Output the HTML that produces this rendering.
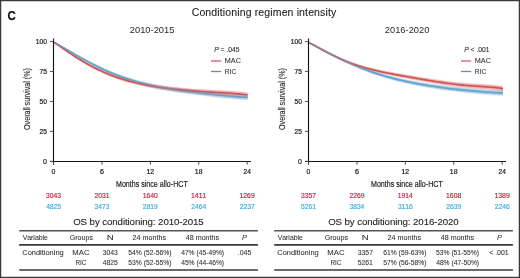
<!DOCTYPE html>
<html><head><meta charset="utf-8"><style>
html,body{margin:0;padding:0;background:#fff;}
body{width:520px;height:278px;overflow:hidden;}
svg{display:block;will-change:transform;font-family:"Liberation Sans", sans-serif;font-kerning:none;}
</style></head><body>
<svg width="520" height="278" viewBox="0 0 520 278">
<rect x="0" y="0" width="520" height="278" fill="#fff"/>
<text x="7.53" y="20.40" font-size="13.4" font-weight="bold" font-style="normal" fill="#111" textLength="8.28" lengthAdjust="spacingAndGlyphs" stroke="#111" stroke-width="0.25" >C</text>
<text x="191.67" y="15.70" font-size="10.5" font-weight="normal" font-style="normal" fill="#1e1e1e" textLength="144.55" lengthAdjust="spacing" stroke="#1e1e1e" stroke-width="0.1" >Conditioning regimen intensity</text>
<text x="129.83" y="32.80" font-size="9.9" font-weight="normal" font-style="normal" fill="#2a2a2a" textLength="44.56" lengthAdjust="spacingAndGlyphs" stroke="#2a2a2a" stroke-width="0" >2010-2015</text>
<polygon points="54.00,41.90 56.02,42.96 58.03,44.03 60.05,45.12 62.07,46.23 64.08,47.35 66.10,48.49 68.12,49.63 70.13,50.77 72.15,51.91 74.17,53.05 76.18,54.19 78.20,55.32 80.22,56.44 82.23,57.55 84.25,58.64 86.27,59.73 88.28,60.80 90.30,61.85 92.32,62.88 94.33,63.89 96.35,64.89 98.37,65.87 100.38,66.82 102.40,67.75 104.42,68.67 106.43,69.56 108.45,70.42 110.47,71.27 112.48,72.09 114.50,72.89 116.52,73.67 118.53,74.42 120.55,75.15 122.57,75.86 124.58,76.55 126.60,77.22 128.62,77.86 130.63,78.49 132.65,79.09 134.67,79.67 136.68,80.24 138.70,80.78 140.72,81.31 142.73,81.82 144.75,82.31 146.77,82.78 148.78,83.24 150.80,83.68 152.82,84.11 154.83,84.52 156.85,84.92 158.87,85.31 160.88,85.68 162.90,86.04 164.92,86.39 166.93,86.73 168.95,87.06 170.97,87.37 172.98,87.68 175.00,87.98 177.02,88.27 179.03,88.56 181.05,88.83 183.07,89.10 185.08,89.36 187.10,89.62 189.12,89.87 191.13,90.12 193.15,90.36 195.17,90.59 197.18,90.82 199.20,91.05 201.22,91.27 203.23,91.49 205.25,91.70 207.27,91.91 209.28,92.12 211.30,92.32 213.32,92.52 215.33,92.71 217.35,92.90 219.37,93.09 221.38,93.27 223.40,93.45 225.42,93.63 227.43,93.80 229.45,93.96 231.47,94.12 233.48,94.28 235.50,94.43 237.52,94.57 239.53,94.71 241.55,94.84 243.57,94.97 245.58,95.09 247.60,95.20 247.60,99.60 245.58,99.47 243.57,99.32 241.55,99.18 239.53,99.02 237.52,98.86 235.50,98.69 233.48,98.52 231.47,98.34 229.45,98.15 227.43,97.97 225.42,97.77 223.40,97.57 221.38,97.37 219.37,97.16 217.35,96.95 215.33,96.74 213.32,96.52 211.30,96.30 209.28,96.07 207.27,95.84 205.25,95.60 203.23,95.37 201.22,95.12 199.20,94.88 197.18,94.63 195.17,94.37 193.15,94.11 191.13,93.84 189.12,93.57 187.10,93.30 185.08,93.01 183.07,92.72 181.05,92.43 179.03,92.13 177.02,91.82 175.00,91.50 172.98,91.17 170.97,90.83 168.95,90.49 166.93,90.13 164.92,89.77 162.90,89.39 160.88,89.00 158.87,88.60 156.85,88.19 154.83,87.76 152.82,87.32 150.80,86.86 148.78,86.39 146.77,85.90 144.75,85.39 142.73,84.87 140.72,84.33 138.70,83.78 136.68,83.20 134.67,82.60 132.65,81.99 130.63,81.35 128.62,80.69 126.60,80.02 124.58,79.32 122.57,78.59 120.55,77.85 118.53,77.08 116.52,76.29 114.50,75.48 112.48,74.65 110.47,73.79 108.45,72.90 106.43,72.00 104.42,71.07 102.40,70.12 100.38,69.15 98.37,68.15 96.35,67.14 94.33,66.10 92.32,65.04 90.30,63.96 88.28,62.87 86.27,61.76 84.25,60.63 82.23,59.48 80.22,58.32 78.20,57.15 76.18,55.97 74.17,54.78 72.15,53.58 70.13,52.38 68.12,51.18 66.10,49.97 64.08,48.77 62.07,47.56 60.05,46.37 58.03,45.18 56.02,44.00 54.00,42.70" fill="#a8d8ea" opacity="0.7"/>
<polygon points="54.00,41.90 56.02,43.12 58.03,44.46 60.05,45.82 62.07,47.17 64.08,48.52 66.10,49.87 68.12,51.20 70.13,52.52 72.15,53.83 74.17,55.11 76.18,56.37 78.20,57.61 80.22,58.83 82.23,60.02 84.25,61.18 86.27,62.32 88.28,63.42 90.30,64.50 92.32,65.55 94.33,66.57 96.35,67.56 98.37,68.52 100.38,69.45 102.40,70.35 104.42,71.21 106.43,72.05 108.45,72.86 110.47,73.64 112.48,74.40 114.50,75.12 116.52,75.82 118.53,76.49 120.55,77.14 122.57,77.76 124.58,78.35 126.60,78.93 128.62,79.48 130.63,80.00 132.65,80.51 134.67,80.99 136.68,81.46 138.70,81.90 140.72,82.33 142.73,82.74 144.75,83.13 146.77,83.51 148.78,83.87 150.80,84.21 152.82,84.55 154.83,84.86 156.85,85.17 158.87,85.46 160.88,85.74 162.90,86.01 164.92,86.27 166.93,86.51 168.95,86.75 170.97,86.98 172.98,87.20 175.00,87.41 177.02,87.61 179.03,87.80 181.05,87.99 183.07,88.17 185.08,88.34 187.10,88.50 189.12,88.66 191.13,88.81 193.15,88.96 195.17,89.10 197.18,89.24 199.20,89.37 201.22,89.49 203.23,89.62 205.25,89.73 207.27,89.85 209.28,89.96 211.30,90.07 213.32,90.18 215.33,90.29 217.35,90.39 219.37,90.50 221.38,90.61 223.40,90.72 225.42,90.84 227.43,90.95 229.45,91.08 231.47,91.21 233.48,91.35 235.50,91.51 237.52,91.67 239.53,91.85 241.55,92.05 243.57,92.26 245.58,92.50 247.60,92.76 247.60,97.36 245.58,97.07 243.57,96.81 241.55,96.58 239.53,96.36 237.52,96.15 235.50,95.96 233.48,95.79 231.47,95.62 229.45,95.46 227.43,95.31 225.42,95.17 223.40,95.03 221.38,94.89 219.37,94.76 217.35,94.62 215.33,94.49 213.32,94.36 211.30,94.23 209.28,94.09 207.27,93.95 205.25,93.81 203.23,93.67 201.22,93.52 199.20,93.37 197.18,93.21 195.17,93.05 193.15,92.88 191.13,92.70 189.12,92.53 187.10,92.34 185.08,92.15 183.07,91.95 181.05,91.74 179.03,91.53 177.02,91.31 175.00,91.07 172.98,90.84 170.97,90.59 168.95,90.33 166.93,90.06 164.92,89.79 162.90,89.50 160.88,89.20 158.87,88.89 156.85,88.57 154.83,88.23 152.82,87.88 150.80,87.52 148.78,87.14 146.77,86.75 144.75,86.34 142.73,85.92 140.72,85.48 138.70,85.02 136.68,84.54 134.67,84.04 132.65,83.52 130.63,82.98 128.62,82.42 126.60,81.84 124.58,81.23 122.57,80.60 120.55,79.94 118.53,79.26 116.52,78.55 114.50,77.81 112.48,77.05 110.47,76.26 108.45,75.44 106.43,74.59 104.42,73.71 102.40,72.80 100.38,71.86 98.37,70.89 96.35,69.89 94.33,68.85 92.32,67.79 90.30,66.69 88.28,65.57 86.27,64.41 84.25,63.23 82.23,62.01 80.22,60.77 78.20,59.50 76.18,58.21 74.17,56.89 72.15,55.54 70.13,54.18 68.12,52.79 66.10,51.39 64.08,49.97 62.07,48.54 60.05,47.09 58.03,45.63 56.02,44.16 54.00,42.70" fill="#f0a4a4" opacity="0.7"/>
<polyline points="54.00,42.30 56.02,43.48 58.03,44.60 60.05,45.74 62.07,46.90 64.08,48.06 66.10,49.23 68.12,50.40 70.13,51.58 72.15,52.75 74.17,53.92 76.18,55.08 78.20,56.24 80.22,57.38 82.23,58.52 84.25,59.64 86.27,60.74 88.28,61.83 90.30,62.91 92.32,63.96 94.33,65.00 96.35,66.01 98.37,67.01 100.38,67.98 102.40,68.94 104.42,69.87 106.43,70.78 108.45,71.66 110.47,72.53 112.48,73.37 114.50,74.19 116.52,74.98 118.53,75.75 120.55,76.50 122.57,77.23 124.58,77.93 126.60,78.62 128.62,79.28 130.63,79.92 132.65,80.54 134.67,81.14 136.68,81.72 138.70,82.28 140.72,82.82 142.73,83.35 144.75,83.85 146.77,84.34 148.78,84.81 150.80,85.27 152.82,85.71 154.83,86.14 156.85,86.55 158.87,86.95 160.88,87.34 162.90,87.72 164.92,88.08 166.93,88.43 168.95,88.77 170.97,89.10 172.98,89.43 175.00,89.74 177.02,90.04 179.03,90.34 181.05,90.63 183.07,90.91 185.08,91.19 187.10,91.46 189.12,91.72 191.13,91.98 193.15,92.23 195.17,92.48 197.18,92.72 199.20,92.96 201.22,93.20 203.23,93.43 205.25,93.65 207.27,93.87 209.28,94.09 211.30,94.31 213.32,94.52 215.33,94.72 217.35,94.93 219.37,95.13 221.38,95.32 223.40,95.51 225.42,95.70 227.43,95.88 229.45,96.06 231.47,96.23 233.48,96.40 235.50,96.56 237.52,96.72 239.53,96.87 241.55,97.01 243.57,97.15 245.58,97.28 247.60,97.40" fill="none" stroke="#62acd2" stroke-width="1.6" stroke-linejoin="round"/>
<polyline points="54.00,42.30 56.02,43.64 58.03,45.05 60.05,46.45 62.07,47.85 64.08,49.25 66.10,50.63 68.12,52.00 70.13,53.35 72.15,54.68 74.17,56.00 76.18,57.29 78.20,58.56 80.22,59.80 82.23,61.02 84.25,62.20 86.27,63.37 88.28,64.50 90.30,65.60 92.32,66.67 94.33,67.71 96.35,68.72 98.37,69.70 100.38,70.65 102.40,71.57 104.42,72.46 106.43,73.32 108.45,74.15 110.47,74.95 112.48,75.72 114.50,76.47 116.52,77.19 118.53,77.88 120.55,78.54 122.57,79.18 124.58,79.79 126.60,80.38 128.62,80.95 130.63,81.49 132.65,82.02 134.67,82.52 136.68,83.00 138.70,83.46 140.72,83.90 142.73,84.33 144.75,84.74 146.77,85.13 148.78,85.51 150.80,85.87 152.82,86.22 154.83,86.55 156.85,86.87 158.87,87.18 160.88,87.47 162.90,87.75 164.92,88.03 166.93,88.29 168.95,88.54 170.97,88.78 172.98,89.02 175.00,89.24 177.02,89.46 179.03,89.67 181.05,89.87 183.07,90.06 185.08,90.24 187.10,90.42 189.12,90.59 191.13,90.76 193.15,90.92 195.17,91.07 197.18,91.22 199.20,91.37 201.22,91.51 203.23,91.64 205.25,91.77 207.27,91.90 209.28,92.03 211.30,92.15 213.32,92.27 215.33,92.39 217.35,92.51 219.37,92.63 221.38,92.75 223.40,92.87 225.42,93.00 227.43,93.13 229.45,93.27 231.47,93.42 233.48,93.57 235.50,93.73 237.52,93.91 239.53,94.10 241.55,94.31 243.57,94.54 245.58,94.79 247.60,95.06" fill="none" stroke="#c84646" stroke-width="1.6" stroke-linejoin="round"/>
<polyline points="54.00,42.30 56.02,43.48 58.03,44.60 60.05,45.74 62.07,46.90 64.08,48.06 66.10,49.23 68.12,50.40 70.13,51.58 72.15,52.75 74.17,53.92 76.18,55.08 78.20,56.24 80.22,57.38 82.23,58.52 84.25,59.64 86.27,60.74 88.28,61.83 90.30,62.91 92.32,63.96 94.33,65.00 96.35,66.01 98.37,67.01 100.38,67.98 102.40,68.94 104.42,69.87 106.43,70.78 108.45,71.66 110.47,72.53 112.48,73.37 114.50,74.19 116.52,74.98 118.53,75.75 120.55,76.50 122.57,77.23 124.58,77.93 126.60,78.62 128.62,79.28 130.63,79.92 132.65,80.54 134.67,81.14 136.68,81.72 138.70,82.28 140.72,82.82 142.73,83.35 144.75,83.85 146.77,84.34 148.78,84.81 150.80,85.27 152.82,85.71 154.83,86.14 156.85,86.55 158.87,86.95 160.88,87.34 162.90,87.72 164.92,88.08 166.93,88.43 168.95,88.77 170.97,89.10 172.98,89.43 175.00,89.74 177.02,90.04 179.03,90.34 181.05,90.63 183.07,90.91 185.08,91.19 187.10,91.46 189.12,91.72 191.13,91.98 193.15,92.23 195.17,92.48 197.18,92.72 199.20,92.96 201.22,93.20 203.23,93.43 205.25,93.65 207.27,93.87 209.28,94.09 211.30,94.31 213.32,94.52 215.33,94.72 217.35,94.93 219.37,95.13 221.38,95.32 223.40,95.51 225.42,95.70 227.43,95.88 229.45,96.06 231.47,96.23 233.48,96.40 235.50,96.56 237.52,96.72 239.53,96.87 241.55,97.01 243.57,97.15 245.58,97.28 247.60,97.40" fill="none" stroke="#62acd2" stroke-width="1.5" stroke-linejoin="round" opacity="0.45"/>
<polygon points="54.00,41.40 56.02,42.45 58.03,43.51 60.05,44.59 62.07,45.70 64.08,46.82 66.10,47.95 68.12,49.09 70.13,50.23 72.15,51.37 74.17,52.50 76.18,53.64 78.20,54.76 80.22,55.88 82.23,56.99 84.25,58.08 86.27,59.16 88.28,60.22 90.30,61.27 92.32,62.30 94.33,63.32 96.35,64.31 98.37,65.28 100.38,66.24 102.40,67.17 104.42,68.08 106.43,68.96 108.45,69.83 110.47,70.67 112.48,71.49 114.50,72.29 116.52,73.07 118.53,73.82 120.55,74.55 122.57,75.26 124.58,75.94 126.60,76.61 128.62,77.25 130.63,77.87 132.65,78.47 134.67,79.06 136.68,79.62 138.70,80.16 140.72,80.69 142.73,81.19 144.75,81.68 146.77,82.16 148.78,82.61 150.80,83.05 152.82,83.48 154.83,83.89 156.85,84.29 158.87,84.67 160.88,85.04 162.90,85.40 164.92,85.75 166.93,86.08 168.95,86.41 170.97,86.73 172.98,87.03 175.00,87.33 177.02,87.62 179.03,87.90 181.05,88.18 183.07,88.45 185.08,88.71 187.10,88.96 189.12,89.21 191.13,89.45 193.15,89.69 195.17,89.93 197.18,90.16 199.20,90.38 201.22,90.60 203.23,90.82 205.25,91.03 207.27,91.24 209.28,91.44 211.30,91.64 213.32,91.84 215.33,92.03 217.35,92.22 219.37,92.41 221.38,92.59 223.40,92.77 225.42,92.94 227.43,93.11 229.45,93.27 231.47,93.43 233.48,93.59 235.50,93.74 237.52,93.88 239.53,94.02 241.55,94.15 243.57,94.27 245.58,94.39 247.60,94.50 247.60,100.30 245.58,100.16 243.57,100.02 241.55,99.87 239.53,99.72 237.52,99.55 235.50,99.38 233.48,99.21 231.47,99.03 229.45,98.84 227.43,98.65 225.42,98.46 223.40,98.26 221.38,98.05 219.37,97.85 217.35,97.63 215.33,97.42 213.32,97.20 211.30,96.97 209.28,96.75 207.27,96.51 205.25,96.28 203.23,96.04 201.22,95.79 199.20,95.55 197.18,95.29 195.17,95.04 193.15,94.77 191.13,94.51 189.12,94.23 187.10,93.96 185.08,93.67 183.07,93.38 181.05,93.08 179.03,92.78 177.02,92.47 175.00,92.15 172.98,91.82 170.97,91.48 168.95,91.14 166.93,90.78 164.92,90.41 162.90,90.03 160.88,89.64 158.87,89.24 156.85,88.82 154.83,88.39 152.82,87.95 150.80,87.49 148.78,87.02 146.77,86.53 144.75,86.02 142.73,85.50 140.72,84.96 138.70,84.40 136.68,83.82 134.67,83.22 132.65,82.60 130.63,81.97 128.62,81.31 126.60,80.63 124.58,79.93 122.57,79.20 120.55,78.46 118.53,77.69 116.52,76.90 114.50,76.08 112.48,75.24 110.47,74.38 108.45,73.50 106.43,72.59 104.42,71.66 102.40,70.71 100.38,69.73 98.37,68.74 96.35,67.72 94.33,66.68 92.32,65.62 90.30,64.54 88.28,63.44 86.27,62.32 84.25,61.19 82.23,60.05 80.22,58.88 78.20,57.71 76.18,56.53 74.17,55.33 72.15,54.13 70.13,52.93 68.12,51.72 66.10,50.51 64.08,49.30 62.07,48.09 60.05,46.89 58.03,45.70 56.02,44.51 54.00,43.20" fill="#6a8fc0" opacity="0.22"/>
<polygon points="54.00,41.40 56.02,42.61 58.03,43.95 60.05,45.30 62.07,46.66 64.08,48.01 66.10,49.35 68.12,50.68 70.13,52.00 72.15,53.30 74.17,54.58 76.18,55.84 78.20,57.08 80.22,58.30 82.23,59.49 84.25,60.65 86.27,61.78 88.28,62.89 90.30,63.97 92.32,65.01 94.33,66.03 96.35,67.02 98.37,67.98 100.38,68.90 102.40,69.80 104.42,70.67 106.43,71.51 108.45,72.32 110.47,73.10 112.48,73.85 114.50,74.57 116.52,75.27 118.53,75.94 120.55,76.59 122.57,77.20 124.58,77.80 126.60,78.37 128.62,78.92 130.63,79.45 132.65,79.95 134.67,80.43 136.68,80.90 138.70,81.34 140.72,81.77 142.73,82.18 144.75,82.57 146.77,82.94 148.78,83.30 150.80,83.65 152.82,83.98 154.83,84.30 156.85,84.60 158.87,84.89 160.88,85.17 162.90,85.44 164.92,85.70 166.93,85.94 168.95,86.18 170.97,86.41 172.98,86.62 175.00,86.83 177.02,87.03 179.03,87.23 181.05,87.41 183.07,87.59 185.08,87.76 187.10,87.92 189.12,88.08 191.13,88.23 193.15,88.38 195.17,88.52 197.18,88.65 199.20,88.78 201.22,88.91 203.23,89.03 205.25,89.15 207.27,89.26 209.28,89.37 211.30,89.48 213.32,89.59 215.33,89.70 217.35,89.80 219.37,89.91 221.38,90.02 223.40,90.13 225.42,90.24 227.43,90.36 229.45,90.49 231.47,90.62 233.48,90.76 235.50,90.91 237.52,91.08 239.53,91.25 241.55,91.45 243.57,91.66 245.58,91.90 247.60,92.16 247.60,97.96 245.58,97.67 243.57,97.41 241.55,97.17 239.53,96.95 237.52,96.75 235.50,96.56 233.48,96.38 231.47,96.21 229.45,96.06 227.43,95.91 225.42,95.76 223.40,95.62 221.38,95.48 219.37,95.35 217.35,95.22 215.33,95.08 213.32,94.95 211.30,94.81 209.28,94.68 207.27,94.54 205.25,94.40 203.23,94.25 201.22,94.10 199.20,93.95 197.18,93.79 195.17,93.63 193.15,93.46 191.13,93.29 189.12,93.11 187.10,92.92 185.08,92.73 183.07,92.53 181.05,92.32 179.03,92.10 177.02,91.88 175.00,91.65 172.98,91.41 170.97,91.16 168.95,90.90 166.93,90.64 164.92,90.36 162.90,90.07 160.88,89.77 158.87,89.46 156.85,89.14 154.83,88.80 152.82,88.45 150.80,88.09 148.78,87.71 146.77,87.32 144.75,86.91 142.73,86.48 140.72,86.04 138.70,85.58 136.68,85.10 134.67,84.60 132.65,84.08 130.63,83.54 128.62,82.98 126.60,82.39 124.58,81.78 122.57,81.15 120.55,80.49 118.53,79.81 116.52,79.10 114.50,78.36 112.48,77.60 110.47,76.81 108.45,75.99 106.43,75.13 104.42,74.25 102.40,73.34 100.38,72.40 98.37,71.43 96.35,70.43 94.33,69.39 92.32,68.33 90.30,67.23 88.28,66.10 86.27,64.95 84.25,63.76 82.23,62.55 80.22,61.30 78.20,60.03 76.18,58.73 74.17,57.41 72.15,56.07 70.13,54.70 68.12,53.31 66.10,51.91 64.08,50.49 62.07,49.05 60.05,47.60 58.03,46.14 56.02,44.67 54.00,43.20" fill="#e08080" opacity="0.22"/>
<line x1="53.5" y1="38.5" x2="53.5" y2="164.6" stroke="#151515" stroke-width="1.15" />
<line x1="50" y1="161.5" x2="251" y2="161.5" stroke="#151515" stroke-width="1.15" />
<line x1="50" y1="41.599999999999994" x2="53.2" y2="41.599999999999994" stroke="#555" stroke-width="1.0" />
<text x="35.69" y="44.10" font-size="7.2" font-weight="normal" font-style="normal" fill="#222" textLength="11.17" lengthAdjust="spacingAndGlyphs" stroke="#222" stroke-width="0.22" >100</text>
<line x1="50" y1="71.52499999999999" x2="53.2" y2="71.52499999999999" stroke="#555" stroke-width="1.0" />
<text x="39.46" y="74.02" font-size="7.2" font-weight="normal" font-style="normal" fill="#222" textLength="7.42" lengthAdjust="spacingAndGlyphs" stroke="#222" stroke-width="0.22" >75</text>
<line x1="50" y1="101.45" x2="53.2" y2="101.45" stroke="#555" stroke-width="1.0" />
<text x="39.54" y="103.95" font-size="7.2" font-weight="normal" font-style="normal" fill="#222" textLength="7.32" lengthAdjust="spacingAndGlyphs" stroke="#222" stroke-width="0.22" >50</text>
<line x1="50" y1="131.375" x2="53.2" y2="131.375" stroke="#555" stroke-width="1.0" />
<text x="39.46" y="133.88" font-size="7.2" font-weight="normal" font-style="normal" fill="#222" textLength="7.42" lengthAdjust="spacingAndGlyphs" stroke="#222" stroke-width="0.22" >25</text>
<line x1="50" y1="161.3" x2="53.2" y2="161.3" stroke="#555" stroke-width="1.0" />
<text x="43.03" y="163.80" font-size="7.2" font-weight="normal" font-style="normal" fill="#222" textLength="3.84" lengthAdjust="spacingAndGlyphs" stroke="#222" stroke-width="0.22" >0</text>
<line x1="53.5" y1="161.3" x2="53.5" y2="164.6" stroke="#444" stroke-width="1.0" />
<text x="51.58" y="173.50" font-size="7.2" font-weight="normal" font-style="normal" fill="#222" textLength="3.84" lengthAdjust="spacingAndGlyphs" stroke="#222" stroke-width="0.22" >0</text>
<line x1="101.925" y1="161.3" x2="101.925" y2="164.6" stroke="#444" stroke-width="1.0" />
<text x="99.91" y="173.50" font-size="7.2" font-weight="normal" font-style="normal" fill="#222" textLength="3.98" lengthAdjust="spacingAndGlyphs" stroke="#222" stroke-width="0.22" >6</text>
<line x1="150.35" y1="161.3" x2="150.35" y2="164.6" stroke="#444" stroke-width="1.0" />
<text x="146.42" y="173.50" font-size="7.2" font-weight="normal" font-style="normal" fill="#222" textLength="7.67" lengthAdjust="spacingAndGlyphs" stroke="#222" stroke-width="0.22" >12</text>
<line x1="198.77499999999998" y1="161.3" x2="198.77499999999998" y2="164.6" stroke="#444" stroke-width="1.0" />
<text x="194.85" y="173.50" font-size="7.2" font-weight="normal" font-style="normal" fill="#222" textLength="7.62" lengthAdjust="spacingAndGlyphs" stroke="#222" stroke-width="0.22" >18</text>
<line x1="247.2" y1="161.3" x2="247.2" y2="164.6" stroke="#444" stroke-width="1.0" />
<text x="243.47" y="173.50" font-size="7.2" font-weight="normal" font-style="normal" fill="#222" textLength="7.32" lengthAdjust="spacingAndGlyphs" stroke="#222" stroke-width="0.22" >24</text>
<text transform="translate(29.90,129.94) rotate(-90)" x="0" y="0" font-size="9.8" fill="#2a2a2a" stroke="#2a2a2a" stroke-width="0.15" textLength="61.78" lengthAdjust="spacingAndGlyphs">Overall survival (%)</text>
<text x="116.02" y="187.00" font-size="9.2" font-weight="normal" font-style="normal" fill="#222" textLength="71.74" lengthAdjust="spacingAndGlyphs" stroke="#222" stroke-width="0.2" >Months since allo-HCT</text>
<text x="214.30" y="52.3" font-size="6.7" fill="#2a2a2a" stroke="#2a2a2a" stroke-width="0.1"><tspan font-style="italic">P</tspan> = .045</text>
<line x1="211" y1="61" x2="221.2" y2="61" stroke="#d9587a" stroke-width="1.3" />
<line x1="211" y1="71.5" x2="221.2" y2="71.5" stroke="#6f8aa5" stroke-width="1.3" />
<text x="224.80" y="63.00" font-size="6.7" font-weight="normal" font-style="normal" fill="#333" textLength="16.17" lengthAdjust="spacingAndGlyphs" stroke="#333" stroke-width="0.08" >MAC</text>
<text x="224.85" y="73.60" font-size="6.7" font-weight="normal" font-style="normal" fill="#333" textLength="11.50" lengthAdjust="spacingAndGlyphs" stroke="#333" stroke-width="0.08" >RIC</text>
<text x="384.83" y="32.80" font-size="9.9" font-weight="normal" font-style="normal" fill="#2a2a2a" textLength="44.53" lengthAdjust="spacingAndGlyphs" stroke="#2a2a2a" stroke-width="0" >2016-2020</text>
<polygon points="309.00,42.30 311.00,43.21 313.00,44.19 315.00,45.19 317.00,46.19 319.00,47.21 321.00,48.22 323.00,49.24 325.00,50.26 327.00,51.27 329.00,52.28 331.00,53.28 333.00,54.28 335.00,55.26 337.00,56.23 339.00,57.19 341.00,58.14 343.00,59.07 345.00,59.99 347.00,60.89 349.00,61.78 351.00,62.65 353.00,63.50 355.00,64.34 357.00,65.16 359.00,65.96 361.00,66.74 363.00,67.50 365.00,68.25 367.00,68.98 369.00,69.69 371.00,70.38 373.00,71.06 375.00,71.71 377.00,72.35 379.00,72.97 381.00,73.58 383.00,74.17 385.00,74.74 387.00,75.29 389.00,75.83 391.00,76.36 393.00,76.87 395.00,77.36 397.00,77.84 399.00,78.31 401.00,78.76 403.00,79.20 405.00,79.63 407.00,80.05 409.00,80.45 411.00,80.84 413.00,81.23 415.00,81.60 417.00,81.96 419.00,82.31 421.00,82.65 423.00,82.98 425.00,83.30 427.00,83.62 429.00,83.92 431.00,84.22 433.00,84.51 435.00,84.79 437.00,85.07 439.00,85.34 441.00,85.60 443.00,85.85 445.00,86.10 447.00,86.34 449.00,86.58 451.00,86.81 453.00,87.03 455.00,87.25 457.00,87.46 459.00,87.67 461.00,87.87 463.00,88.06 465.00,88.25 467.00,88.43 469.00,88.61 471.00,88.79 473.00,88.95 475.00,89.11 477.00,89.27 479.00,89.42 481.00,89.57 483.00,89.71 485.00,89.84 487.00,89.97 489.00,90.10 491.00,90.21 493.00,90.33 495.00,90.44 497.00,90.54 499.00,90.64 501.00,90.73 503.00,90.82 503.00,95.22 501.00,95.11 499.00,94.99 497.00,94.87 495.00,94.75 493.00,94.62 491.00,94.48 489.00,94.34 487.00,94.19 485.00,94.04 483.00,93.88 481.00,93.72 479.00,93.55 477.00,93.37 475.00,93.19 473.00,93.01 471.00,92.82 469.00,92.62 467.00,92.42 465.00,92.21 463.00,92.00 461.00,91.78 459.00,91.55 457.00,91.32 455.00,91.08 453.00,90.84 451.00,90.59 449.00,90.34 447.00,90.08 445.00,89.81 443.00,89.53 441.00,89.25 439.00,88.97 437.00,88.67 435.00,88.37 433.00,88.06 431.00,87.75 429.00,87.42 427.00,87.09 425.00,86.75 423.00,86.40 421.00,86.04 419.00,85.67 417.00,85.29 415.00,84.90 413.00,84.50 411.00,84.09 409.00,83.67 407.00,83.24 405.00,82.79 403.00,82.33 401.00,81.86 399.00,81.38 397.00,80.88 395.00,80.37 393.00,79.85 391.00,79.30 389.00,78.75 387.00,78.18 385.00,77.59 383.00,76.98 381.00,76.36 379.00,75.73 377.00,75.07 375.00,74.40 373.00,73.71 371.00,73.00 369.00,72.27 367.00,71.52 365.00,70.76 363.00,69.98 361.00,69.17 359.00,68.35 357.00,67.51 355.00,66.66 353.00,65.78 351.00,64.89 349.00,63.97 347.00,63.05 345.00,62.10 343.00,61.14 341.00,60.16 339.00,59.17 337.00,58.16 335.00,57.14 333.00,56.10 331.00,55.06 329.00,54.00 327.00,52.94 325.00,51.87 323.00,50.79 321.00,49.70 319.00,48.61 317.00,47.52 315.00,46.43 313.00,45.34 311.00,44.25 309.00,43.10" fill="#a8d8ea" opacity="0.7"/>
<polygon points="309.00,42.30 311.00,43.10 313.00,44.12 315.00,45.17 317.00,46.22 319.00,47.29 321.00,48.35 323.00,49.40 325.00,50.44 327.00,51.47 329.00,52.48 331.00,53.48 333.00,54.45 335.00,55.40 337.00,56.32 339.00,57.22 341.00,58.09 343.00,58.94 345.00,59.75 347.00,60.54 349.00,61.30 351.00,62.04 353.00,62.74 355.00,63.42 357.00,64.07 359.00,64.70 361.00,65.30 363.00,65.88 365.00,66.44 367.00,66.98 369.00,67.49 371.00,67.99 373.00,68.47 375.00,68.94 377.00,69.38 379.00,69.82 381.00,70.24 383.00,70.65 385.00,71.05 387.00,71.44 389.00,71.82 391.00,72.19 393.00,72.56 395.00,72.92 397.00,73.28 399.00,73.63 401.00,73.98 403.00,74.33 405.00,74.67 407.00,75.01 409.00,75.35 411.00,75.69 413.00,76.02 415.00,76.36 417.00,76.69 419.00,77.02 421.00,77.35 423.00,77.68 425.00,78.00 427.00,78.32 429.00,78.64 431.00,78.96 433.00,79.27 435.00,79.57 437.00,79.88 439.00,80.17 441.00,80.46 443.00,80.74 445.00,81.01 447.00,81.28 449.00,81.53 451.00,81.78 453.00,82.02 455.00,82.24 457.00,82.46 459.00,82.67 461.00,82.86 463.00,83.04 465.00,83.22 467.00,83.38 469.00,83.53 471.00,83.68 473.00,83.81 475.00,83.94 477.00,84.07 479.00,84.19 481.00,84.30 483.00,84.42 485.00,84.54 487.00,84.67 489.00,84.81 491.00,84.96 493.00,85.13 495.00,85.32 497.00,85.54 499.00,85.79 501.00,86.08 503.00,86.42 503.00,91.02 501.00,90.65 499.00,90.34 497.00,90.07 495.00,89.82 493.00,89.61 491.00,89.42 489.00,89.24 487.00,89.08 485.00,88.93 483.00,88.78 481.00,88.64 479.00,88.50 477.00,88.35 475.00,88.20 473.00,88.05 471.00,87.89 469.00,87.72 467.00,87.54 465.00,87.35 463.00,87.15 461.00,86.94 459.00,86.72 457.00,86.49 455.00,86.25 453.00,86.00 451.00,85.73 449.00,85.46 447.00,85.18 445.00,84.88 443.00,84.58 441.00,84.27 439.00,83.96 437.00,83.64 435.00,83.31 433.00,82.97 431.00,82.63 429.00,82.29 427.00,81.94 425.00,81.59 423.00,81.24 421.00,80.88 419.00,80.52 417.00,80.16 415.00,79.80 413.00,79.44 411.00,79.07 409.00,78.70 407.00,78.33 405.00,77.96 403.00,77.59 401.00,77.21 399.00,76.83 397.00,76.45 395.00,76.06 393.00,75.66 391.00,75.26 389.00,74.85 387.00,74.44 385.00,74.02 383.00,73.58 381.00,73.14 379.00,72.68 377.00,72.21 375.00,71.73 373.00,71.23 371.00,70.71 369.00,70.17 367.00,69.62 365.00,69.04 363.00,68.45 361.00,67.83 359.00,67.18 357.00,66.52 355.00,65.82 353.00,65.10 351.00,64.35 349.00,63.58 347.00,62.77 345.00,61.94 343.00,61.07 341.00,60.18 339.00,59.26 337.00,58.31 335.00,57.34 333.00,56.33 331.00,55.31 329.00,54.26 327.00,53.18 325.00,52.09 323.00,50.98 321.00,49.86 319.00,48.73 317.00,47.59 315.00,46.44 313.00,45.29 311.00,44.15 309.00,43.10" fill="#f0a4a4" opacity="0.7"/>
<polyline points="309.00,42.70 311.00,43.73 313.00,44.77 315.00,45.81 317.00,46.86 319.00,47.91 321.00,48.96 323.00,50.01 325.00,51.06 327.00,52.11 329.00,53.14 331.00,54.17 333.00,55.19 335.00,56.20 337.00,57.19 339.00,58.18 341.00,59.15 343.00,60.10 345.00,61.04 347.00,61.97 349.00,62.88 351.00,63.77 353.00,64.64 355.00,65.50 357.00,66.34 359.00,67.16 361.00,67.96 363.00,68.74 365.00,69.50 367.00,70.25 369.00,70.98 371.00,71.69 373.00,72.38 375.00,73.05 377.00,73.71 379.00,74.35 381.00,74.97 383.00,75.58 385.00,76.16 387.00,76.74 389.00,77.29 391.00,77.83 393.00,78.36 395.00,78.87 397.00,79.36 399.00,79.85 401.00,80.31 403.00,80.77 405.00,81.21 407.00,81.64 409.00,82.06 411.00,82.47 413.00,82.86 415.00,83.25 417.00,83.62 419.00,83.99 421.00,84.34 423.00,84.69 425.00,85.02 427.00,85.35 429.00,85.67 431.00,85.98 433.00,86.29 435.00,86.58 437.00,86.87 439.00,87.15 441.00,87.43 443.00,87.69 445.00,87.95 447.00,88.21 449.00,88.46 451.00,88.70 453.00,88.94 455.00,89.17 457.00,89.39 459.00,89.61 461.00,89.82 463.00,90.03 465.00,90.23 467.00,90.43 469.00,90.62 471.00,90.80 473.00,90.98 475.00,91.15 477.00,91.32 479.00,91.49 481.00,91.64 483.00,91.79 485.00,91.94 487.00,92.08 489.00,92.22 491.00,92.35 493.00,92.47 495.00,92.59 497.00,92.71 499.00,92.81 501.00,92.92 503.00,93.02" fill="none" stroke="#62acd2" stroke-width="1.6" stroke-linejoin="round"/>
<polyline points="309.00,42.70 311.00,43.62 313.00,44.71 315.00,45.80 317.00,46.91 319.00,48.01 321.00,49.10 323.00,50.19 325.00,51.27 327.00,52.33 329.00,53.37 331.00,54.39 333.00,55.39 335.00,56.37 337.00,57.32 339.00,58.24 341.00,59.14 343.00,60.01 345.00,60.84 347.00,61.66 349.00,62.44 351.00,63.19 353.00,63.92 355.00,64.62 357.00,65.29 359.00,65.94 361.00,66.57 363.00,67.17 365.00,67.74 367.00,68.30 369.00,68.83 371.00,69.35 373.00,69.85 375.00,70.33 377.00,70.80 379.00,71.25 381.00,71.69 383.00,72.12 385.00,72.53 387.00,72.94 389.00,73.34 391.00,73.73 393.00,74.11 395.00,74.49 397.00,74.86 399.00,75.23 401.00,75.60 403.00,75.96 405.00,76.32 407.00,76.67 409.00,77.03 411.00,77.38 413.00,77.73 415.00,78.08 417.00,78.43 419.00,78.77 421.00,79.12 423.00,79.46 425.00,79.80 427.00,80.13 429.00,80.47 431.00,80.80 433.00,81.12 435.00,81.44 437.00,81.76 439.00,82.06 441.00,82.37 443.00,82.66 445.00,82.95 447.00,83.23 449.00,83.50 451.00,83.76 453.00,84.01 455.00,84.25 457.00,84.48 459.00,84.69 461.00,84.90 463.00,85.10 465.00,85.28 467.00,85.46 469.00,85.63 471.00,85.78 473.00,85.93 475.00,86.07 477.00,86.21 479.00,86.34 481.00,86.47 483.00,86.60 485.00,86.74 487.00,86.88 489.00,87.02 491.00,87.19 493.00,87.37 495.00,87.57 497.00,87.80 499.00,88.06 501.00,88.37 503.00,88.72" fill="none" stroke="#c84646" stroke-width="1.6" stroke-linejoin="round"/>
<polyline points="309.00,42.70 311.00,43.73 313.00,44.77 315.00,45.81 317.00,46.86 319.00,47.91 321.00,48.96 323.00,50.01 325.00,51.06 327.00,52.11 329.00,53.14 331.00,54.17 333.00,55.19 335.00,56.20 337.00,57.19 339.00,58.18 341.00,59.15 343.00,60.10 345.00,61.04 347.00,61.97 349.00,62.88 351.00,63.77 353.00,64.64 355.00,65.50 357.00,66.34 359.00,67.16 361.00,67.96 363.00,68.74 365.00,69.50 367.00,70.25 369.00,70.98 371.00,71.69 373.00,72.38 375.00,73.05 377.00,73.71 379.00,74.35 381.00,74.97 383.00,75.58 385.00,76.16 387.00,76.74 389.00,77.29 391.00,77.83 393.00,78.36 395.00,78.87 397.00,79.36 399.00,79.85 401.00,80.31 403.00,80.77 405.00,81.21 407.00,81.64 409.00,82.06 411.00,82.47 413.00,82.86 415.00,83.25 417.00,83.62 419.00,83.99 421.00,84.34 423.00,84.69 425.00,85.02 427.00,85.35 429.00,85.67 431.00,85.98 433.00,86.29 435.00,86.58 437.00,86.87 439.00,87.15 441.00,87.43 443.00,87.69 445.00,87.95 447.00,88.21 449.00,88.46 451.00,88.70 453.00,88.94 455.00,89.17 457.00,89.39 459.00,89.61 461.00,89.82 463.00,90.03 465.00,90.23 467.00,90.43 469.00,90.62 471.00,90.80 473.00,90.98 475.00,91.15 477.00,91.32 479.00,91.49 481.00,91.64 483.00,91.79 485.00,91.94 487.00,92.08 489.00,92.22 491.00,92.35 493.00,92.47 495.00,92.59 497.00,92.71 499.00,92.81 501.00,92.92 503.00,93.02" fill="none" stroke="#62acd2" stroke-width="1.5" stroke-linejoin="round" opacity="0.45"/>
<polygon points="309.00,41.80 311.00,42.70 313.00,43.67 315.00,44.66 317.00,45.66 319.00,46.67 321.00,47.69 323.00,48.70 325.00,49.72 327.00,50.73 329.00,51.73 331.00,52.73 333.00,53.72 335.00,54.70 337.00,55.67 339.00,56.63 341.00,57.57 343.00,58.50 345.00,59.42 347.00,60.32 349.00,61.20 351.00,62.07 353.00,62.92 355.00,63.75 357.00,64.57 359.00,65.37 361.00,66.15 363.00,66.91 365.00,67.66 367.00,68.38 369.00,69.09 371.00,69.78 373.00,70.45 375.00,71.11 377.00,71.74 379.00,72.36 381.00,72.97 383.00,73.55 385.00,74.12 387.00,74.68 389.00,75.22 391.00,75.74 393.00,76.25 395.00,76.74 397.00,77.22 399.00,77.68 401.00,78.14 403.00,78.57 405.00,79.00 407.00,79.41 409.00,79.82 411.00,80.21 413.00,80.59 415.00,80.96 417.00,81.32 419.00,81.66 421.00,82.00 423.00,82.33 425.00,82.66 427.00,82.97 429.00,83.27 431.00,83.57 433.00,83.86 435.00,84.14 437.00,84.41 439.00,84.68 441.00,84.94 443.00,85.19 445.00,85.44 447.00,85.68 449.00,85.91 451.00,86.14 453.00,86.36 455.00,86.58 457.00,86.79 459.00,86.99 461.00,87.19 463.00,87.39 465.00,87.57 467.00,87.76 469.00,87.93 471.00,88.11 473.00,88.27 475.00,88.43 477.00,88.59 479.00,88.74 481.00,88.88 483.00,89.02 485.00,89.15 487.00,89.28 489.00,89.40 491.00,89.52 493.00,89.63 495.00,89.74 497.00,89.84 499.00,89.94 501.00,90.03 503.00,90.12 503.00,95.92 501.00,95.81 499.00,95.69 497.00,95.57 495.00,95.44 493.00,95.31 491.00,95.17 489.00,95.03 487.00,94.88 485.00,94.73 483.00,94.57 481.00,94.40 479.00,94.23 477.00,94.06 475.00,93.88 473.00,93.69 471.00,93.50 469.00,93.30 467.00,93.09 465.00,92.88 463.00,92.67 461.00,92.45 459.00,92.22 457.00,91.99 455.00,91.75 453.00,91.51 451.00,91.26 449.00,91.00 447.00,90.74 445.00,90.47 443.00,90.20 441.00,89.91 439.00,89.62 437.00,89.33 435.00,89.03 433.00,88.72 431.00,88.40 429.00,88.07 427.00,87.74 425.00,87.39 423.00,87.04 421.00,86.68 419.00,86.31 417.00,85.93 415.00,85.54 413.00,85.14 411.00,84.73 409.00,84.30 407.00,83.87 405.00,83.42 403.00,82.96 401.00,82.49 399.00,82.01 397.00,81.51 395.00,80.99 393.00,80.47 391.00,79.92 389.00,79.37 387.00,78.79 385.00,78.20 383.00,77.60 381.00,76.97 379.00,76.33 377.00,75.68 375.00,75.00 373.00,74.31 371.00,73.60 369.00,72.87 367.00,72.12 365.00,71.35 363.00,70.57 361.00,69.76 359.00,68.94 357.00,68.10 355.00,67.24 353.00,66.36 351.00,65.47 349.00,64.55 347.00,63.62 345.00,62.67 343.00,61.71 341.00,60.73 339.00,59.73 337.00,58.72 335.00,57.70 333.00,56.66 331.00,55.61 329.00,54.55 327.00,53.49 325.00,52.41 323.00,51.33 321.00,50.24 319.00,49.15 317.00,48.05 315.00,46.96 313.00,45.86 311.00,44.76 309.00,43.60" fill="#6a8fc0" opacity="0.22"/>
<polygon points="309.00,41.80 311.00,42.60 313.00,43.61 315.00,44.66 317.00,45.71 319.00,46.77 321.00,47.83 323.00,48.88 325.00,49.92 327.00,50.95 329.00,51.96 331.00,52.95 333.00,53.92 335.00,54.87 337.00,55.79 339.00,56.69 341.00,57.56 343.00,58.40 345.00,59.22 347.00,60.00 349.00,60.76 351.00,61.50 353.00,62.20 355.00,62.88 357.00,63.53 359.00,64.16 361.00,64.76 363.00,65.34 365.00,65.89 367.00,66.43 369.00,66.95 371.00,67.44 373.00,67.92 375.00,68.38 377.00,68.83 379.00,69.26 381.00,69.69 383.00,70.09 385.00,70.49 387.00,70.88 389.00,71.26 391.00,71.64 393.00,72.00 395.00,72.36 397.00,72.72 399.00,73.07 401.00,73.42 403.00,73.76 405.00,74.10 407.00,74.45 409.00,74.78 411.00,75.12 413.00,75.45 415.00,75.79 417.00,76.12 419.00,76.45 421.00,76.78 423.00,77.10 425.00,77.43 427.00,77.75 429.00,78.07 431.00,78.38 433.00,78.69 435.00,79.00 437.00,79.30 439.00,79.59 441.00,79.88 443.00,80.16 445.00,80.43 447.00,80.70 449.00,80.95 451.00,81.20 453.00,81.43 455.00,81.66 457.00,81.88 459.00,82.08 461.00,82.27 463.00,82.46 465.00,82.63 467.00,82.79 469.00,82.94 471.00,83.09 473.00,83.22 475.00,83.35 477.00,83.47 479.00,83.59 481.00,83.71 483.00,83.83 485.00,83.95 487.00,84.08 489.00,84.21 491.00,84.36 493.00,84.53 495.00,84.72 497.00,84.94 499.00,85.19 501.00,85.48 503.00,85.82 503.00,91.62 501.00,91.25 499.00,90.94 497.00,90.66 495.00,90.42 493.00,90.21 491.00,90.01 489.00,89.84 487.00,89.67 485.00,89.52 483.00,89.38 481.00,89.23 479.00,89.09 477.00,88.94 475.00,88.79 473.00,88.64 471.00,88.48 469.00,88.31 467.00,88.13 465.00,87.94 463.00,87.74 461.00,87.53 459.00,87.31 457.00,87.08 455.00,86.83 453.00,86.58 451.00,86.32 449.00,86.04 447.00,85.76 445.00,85.46 443.00,85.16 441.00,84.85 439.00,84.54 437.00,84.21 435.00,83.88 433.00,83.55 431.00,83.21 429.00,82.87 427.00,82.52 425.00,82.17 423.00,81.81 421.00,81.45 419.00,81.10 417.00,80.73 415.00,80.37 413.00,80.01 411.00,79.64 409.00,79.27 407.00,78.90 405.00,78.53 403.00,78.15 401.00,77.77 399.00,77.39 397.00,77.01 395.00,76.62 393.00,76.22 391.00,75.82 389.00,75.41 387.00,75.00 385.00,74.57 383.00,74.14 381.00,73.69 379.00,73.23 377.00,72.76 375.00,72.28 373.00,71.78 371.00,71.26 369.00,70.72 367.00,70.17 365.00,69.59 363.00,68.99 361.00,68.37 359.00,67.73 357.00,67.06 355.00,66.36 353.00,65.64 351.00,64.89 349.00,64.11 347.00,63.31 345.00,62.47 343.00,61.61 341.00,60.72 339.00,59.79 337.00,58.84 335.00,57.87 333.00,56.86 331.00,55.83 329.00,54.78 327.00,53.71 325.00,52.61 323.00,51.50 321.00,50.38 319.00,49.24 317.00,48.10 315.00,46.95 313.00,45.80 311.00,44.65 309.00,43.60" fill="#e08080" opacity="0.22"/>
<line x1="308.5" y1="38.5" x2="308.5" y2="164.6" stroke="#151515" stroke-width="1.15" />
<line x1="305" y1="161.5" x2="506" y2="161.5" stroke="#151515" stroke-width="1.15" />
<line x1="305" y1="41.599999999999994" x2="308.2" y2="41.599999999999994" stroke="#555" stroke-width="1.0" />
<text x="290.69" y="44.10" font-size="7.2" font-weight="normal" font-style="normal" fill="#222" textLength="11.17" lengthAdjust="spacingAndGlyphs" stroke="#222" stroke-width="0.22" >100</text>
<line x1="305" y1="71.52499999999999" x2="308.2" y2="71.52499999999999" stroke="#555" stroke-width="1.0" />
<text x="294.46" y="74.02" font-size="7.2" font-weight="normal" font-style="normal" fill="#222" textLength="7.42" lengthAdjust="spacingAndGlyphs" stroke="#222" stroke-width="0.22" >75</text>
<line x1="305" y1="101.45" x2="308.2" y2="101.45" stroke="#555" stroke-width="1.0" />
<text x="294.54" y="103.95" font-size="7.2" font-weight="normal" font-style="normal" fill="#222" textLength="7.32" lengthAdjust="spacingAndGlyphs" stroke="#222" stroke-width="0.22" >50</text>
<line x1="305" y1="131.375" x2="308.2" y2="131.375" stroke="#555" stroke-width="1.0" />
<text x="294.46" y="133.88" font-size="7.2" font-weight="normal" font-style="normal" fill="#222" textLength="7.42" lengthAdjust="spacingAndGlyphs" stroke="#222" stroke-width="0.22" >25</text>
<line x1="305" y1="161.3" x2="308.2" y2="161.3" stroke="#555" stroke-width="1.0" />
<text x="298.03" y="163.80" font-size="7.2" font-weight="normal" font-style="normal" fill="#222" textLength="3.84" lengthAdjust="spacingAndGlyphs" stroke="#222" stroke-width="0.22" >0</text>
<line x1="308.5" y1="161.3" x2="308.5" y2="164.6" stroke="#444" stroke-width="1.0" />
<text x="306.58" y="173.50" font-size="7.2" font-weight="normal" font-style="normal" fill="#222" textLength="3.84" lengthAdjust="spacingAndGlyphs" stroke="#222" stroke-width="0.22" >0</text>
<line x1="356.925" y1="161.3" x2="356.925" y2="164.6" stroke="#444" stroke-width="1.0" />
<text x="354.91" y="173.50" font-size="7.2" font-weight="normal" font-style="normal" fill="#222" textLength="3.98" lengthAdjust="spacingAndGlyphs" stroke="#222" stroke-width="0.22" >6</text>
<line x1="405.35" y1="161.3" x2="405.35" y2="164.6" stroke="#444" stroke-width="1.0" />
<text x="401.42" y="173.50" font-size="7.2" font-weight="normal" font-style="normal" fill="#222" textLength="7.67" lengthAdjust="spacingAndGlyphs" stroke="#222" stroke-width="0.22" >12</text>
<line x1="453.775" y1="161.3" x2="453.775" y2="164.6" stroke="#444" stroke-width="1.0" />
<text x="449.85" y="173.50" font-size="7.2" font-weight="normal" font-style="normal" fill="#222" textLength="7.62" lengthAdjust="spacingAndGlyphs" stroke="#222" stroke-width="0.22" >18</text>
<line x1="502.2" y1="161.3" x2="502.2" y2="164.6" stroke="#444" stroke-width="1.0" />
<text x="498.47" y="173.50" font-size="7.2" font-weight="normal" font-style="normal" fill="#222" textLength="7.32" lengthAdjust="spacingAndGlyphs" stroke="#222" stroke-width="0.22" >24</text>
<text transform="translate(284.90,129.94) rotate(-90)" x="0" y="0" font-size="9.8" fill="#2a2a2a" stroke="#2a2a2a" stroke-width="0.15" textLength="61.78" lengthAdjust="spacingAndGlyphs">Overall survival (%)</text>
<text x="371.02" y="187.00" font-size="9.2" font-weight="normal" font-style="normal" fill="#222" textLength="71.74" lengthAdjust="spacingAndGlyphs" stroke="#222" stroke-width="0.2" >Months since allo-HCT</text>
<text x="464.30" y="52.3" font-size="6.7" fill="#2a2a2a" stroke="#2a2a2a" stroke-width="0.1"><tspan font-style="italic">P</tspan> &lt; .001</text>
<line x1="461" y1="61" x2="471.2" y2="61" stroke="#d9587a" stroke-width="1.3" />
<line x1="461" y1="71.5" x2="471.2" y2="71.5" stroke="#6f8aa5" stroke-width="1.3" />
<text x="474.80" y="63.00" font-size="6.7" font-weight="normal" font-style="normal" fill="#333" textLength="16.17" lengthAdjust="spacingAndGlyphs" stroke="#333" stroke-width="0.08" >MAC</text>
<text x="474.85" y="73.60" font-size="6.7" font-weight="normal" font-style="normal" fill="#333" textLength="11.50" lengthAdjust="spacingAndGlyphs" stroke="#333" stroke-width="0.08" >RIC</text>
<text x="46.04" y="198.30" font-size="7.2" font-weight="normal" font-style="normal" fill="#c8193c" textLength="14.95" lengthAdjust="spacingAndGlyphs" stroke="#c8193c" stroke-width="0.16" >3043</text>
<text x="46.15" y="209.00" font-size="7.2" font-weight="normal" font-style="normal" fill="#3fa9dc" textLength="14.83" lengthAdjust="spacingAndGlyphs" stroke="#3fa9dc" stroke-width="0.16" >4825</text>
<text x="94.38" y="198.30" font-size="7.2" font-weight="normal" font-style="normal" fill="#c8193c" textLength="15.07" lengthAdjust="spacingAndGlyphs" stroke="#c8193c" stroke-width="0.16" >2031</text>
<text x="94.47" y="209.00" font-size="7.2" font-weight="normal" font-style="normal" fill="#3fa9dc" textLength="14.95" lengthAdjust="spacingAndGlyphs" stroke="#3fa9dc" stroke-width="0.16" >3473</text>
<text x="142.63" y="198.30" font-size="7.2" font-weight="normal" font-style="normal" fill="#c8193c" textLength="15.19" lengthAdjust="spacingAndGlyphs" stroke="#c8193c" stroke-width="0.16" >1640</text>
<text x="142.81" y="209.00" font-size="7.2" font-weight="normal" font-style="normal" fill="#3fa9dc" textLength="15.06" lengthAdjust="spacingAndGlyphs" stroke="#3fa9dc" stroke-width="0.16" >2819</text>
<text x="191.05" y="198.30" font-size="7.2" font-weight="normal" font-style="normal" fill="#c8193c" textLength="15.26" lengthAdjust="spacingAndGlyphs" stroke="#c8193c" stroke-width="0.16" >1411</text>
<text x="191.24" y="209.00" font-size="7.2" font-weight="normal" font-style="normal" fill="#3fa9dc" textLength="14.93" lengthAdjust="spacingAndGlyphs" stroke="#3fa9dc" stroke-width="0.16" >2464</text>
<text x="239.48" y="198.30" font-size="7.2" font-weight="normal" font-style="normal" fill="#c8193c" textLength="15.25" lengthAdjust="spacingAndGlyphs" stroke="#c8193c" stroke-width="0.16" >1269</text>
<text x="239.66" y="209.00" font-size="7.2" font-weight="normal" font-style="normal" fill="#3fa9dc" textLength="15.08" lengthAdjust="spacingAndGlyphs" stroke="#3fa9dc" stroke-width="0.16" >2237</text>
<text x="301.04" y="198.30" font-size="7.2" font-weight="normal" font-style="normal" fill="#c8193c" textLength="15.00" lengthAdjust="spacingAndGlyphs" stroke="#c8193c" stroke-width="0.16" >3357</text>
<text x="301.03" y="209.00" font-size="7.2" font-weight="normal" font-style="normal" fill="#3fa9dc" textLength="15.00" lengthAdjust="spacingAndGlyphs" stroke="#3fa9dc" stroke-width="0.16" >5261</text>
<text x="349.38" y="198.30" font-size="7.2" font-weight="normal" font-style="normal" fill="#c8193c" textLength="15.06" lengthAdjust="spacingAndGlyphs" stroke="#c8193c" stroke-width="0.16" >2269</text>
<text x="349.47" y="209.00" font-size="7.2" font-weight="normal" font-style="normal" fill="#3fa9dc" textLength="14.85" lengthAdjust="spacingAndGlyphs" stroke="#3fa9dc" stroke-width="0.16" >3834</text>
<text x="397.63" y="198.30" font-size="7.2" font-weight="normal" font-style="normal" fill="#c8193c" textLength="15.12" lengthAdjust="spacingAndGlyphs" stroke="#c8193c" stroke-width="0.16" >1914</text>
<text x="397.89" y="209.00" font-size="7.2" font-weight="normal" font-style="normal" fill="#3fa9dc" textLength="14.95" lengthAdjust="spacingAndGlyphs" stroke="#3fa9dc" stroke-width="0.16" >3116</text>
<text x="446.05" y="198.30" font-size="7.2" font-weight="normal" font-style="normal" fill="#c8193c" textLength="15.22" lengthAdjust="spacingAndGlyphs" stroke="#c8193c" stroke-width="0.16" >1608</text>
<text x="446.23" y="209.00" font-size="7.2" font-weight="normal" font-style="normal" fill="#3fa9dc" textLength="15.06" lengthAdjust="spacingAndGlyphs" stroke="#3fa9dc" stroke-width="0.16" >2639</text>
<text x="494.48" y="198.30" font-size="7.2" font-weight="normal" font-style="normal" fill="#c8193c" textLength="15.25" lengthAdjust="spacingAndGlyphs" stroke="#c8193c" stroke-width="0.16" >1389</text>
<text x="494.66" y="209.00" font-size="7.2" font-weight="normal" font-style="normal" fill="#3fa9dc" textLength="15.04" lengthAdjust="spacingAndGlyphs" stroke="#3fa9dc" stroke-width="0.16" >2246</text>
<text x="73.14" y="225.30" font-size="9.7" font-weight="normal" font-style="normal" fill="#222" textLength="130.57" lengthAdjust="spacing" stroke="#222" stroke-width="0.1" >OS by conditioning: 2010-2015</text>
<line x1="19.2" y1="230.7" x2="257.9" y2="230.7" stroke="#555" stroke-width="1.5" />
<line x1="19.2" y1="244.8" x2="257.9" y2="244.8" stroke="#3a3a3a" stroke-width="1.8" />
<line x1="19.2" y1="269.9" x2="257.9" y2="269.9" stroke="#3a3a3a" stroke-width="1.5" />
<text x="22.67" y="240.00" font-size="7.0" font-weight="normal" font-style="normal" fill="#303030" textLength="25.24" lengthAdjust="spacingAndGlyphs" stroke="#303030" stroke-width="0.07" >Variable</text>
<text x="69.74" y="240.00" font-size="7.0" font-weight="normal" font-style="normal" fill="#303030" textLength="23.21" lengthAdjust="spacingAndGlyphs" stroke="#303030" stroke-width="0.07" >Groups</text>
<text x="106.81" y="240.00" font-size="7.0" font-weight="normal" font-style="normal" fill="#303030" textLength="6.98" lengthAdjust="spacingAndGlyphs" stroke="#303030" stroke-width="0.07" >N</text>
<text x="132.64" y="240.00" font-size="7.0" font-weight="normal" font-style="normal" fill="#303030" textLength="33.42" lengthAdjust="spacingAndGlyphs" stroke="#303030" stroke-width="0.07" >24 months</text>
<text x="185.84" y="240.00" font-size="7.0" font-weight="normal" font-style="normal" fill="#303030" textLength="33.22" lengthAdjust="spacingAndGlyphs" stroke="#303030" stroke-width="0.07" >48 months</text>
<text x="242.08" y="240.00" font-size="7.0" font-weight="normal" font-style="italic" fill="#303030" textLength="4.87" lengthAdjust="spacingAndGlyphs" stroke="#303030" stroke-width="0.07" >P</text>
<text x="22.32" y="254.50" font-size="7.0" font-weight="normal" font-style="normal" fill="#303030" textLength="41.36" lengthAdjust="spacingAndGlyphs" stroke="#303030" stroke-width="0.07" >Conditioning</text>
<text x="72.37" y="254.50" font-size="7.0" font-weight="normal" font-style="normal" fill="#303030" textLength="17.13" lengthAdjust="spacingAndGlyphs" stroke="#303030" stroke-width="0.07" >MAC</text>
<text x="75.48" y="264.80" font-size="7.0" font-weight="normal" font-style="normal" fill="#303030" textLength="10.96" lengthAdjust="spacingAndGlyphs" stroke="#303030" stroke-width="0.07" >RIC</text>
<text x="102.74" y="254.50" font-size="7.0" font-weight="normal" font-style="normal" fill="#303030" textLength="15.16" lengthAdjust="spacingAndGlyphs" stroke="#303030" stroke-width="0.07" >3043</text>
<text x="102.84" y="264.80" font-size="7.0" font-weight="normal" font-style="normal" fill="#303030" textLength="15.04" lengthAdjust="spacingAndGlyphs" stroke="#303030" stroke-width="0.07" >4825</text>
<text x="128.23" y="254.50" font-size="7.0" font-weight="normal" font-style="normal" fill="#303030" textLength="43.29" lengthAdjust="spacingAndGlyphs" stroke="#303030" stroke-width="0.07" >54% (52-56%)</text>
<text x="128.23" y="264.80" font-size="7.0" font-weight="normal" font-style="normal" fill="#303030" textLength="43.29" lengthAdjust="spacingAndGlyphs" stroke="#303030" stroke-width="0.07" >53% (52-55%)</text>
<text x="181.15" y="254.50" font-size="7.0" font-weight="normal" font-style="normal" fill="#303030" textLength="42.97" lengthAdjust="spacingAndGlyphs" stroke="#303030" stroke-width="0.07" >47% (45-49%)</text>
<text x="181.15" y="264.80" font-size="7.0" font-weight="normal" font-style="normal" fill="#303030" textLength="42.97" lengthAdjust="spacingAndGlyphs" stroke="#303030" stroke-width="0.07" >45% (44-46%)</text>
<text x="237.76" y="254.50" font-size="7.0" font-weight="normal" font-style="normal" fill="#303030" textLength="13.63" lengthAdjust="spacingAndGlyphs" stroke="#303030" stroke-width="0.07" >.045</text>
<text x="328.14" y="225.30" font-size="9.7" font-weight="normal" font-style="normal" fill="#222" textLength="130.54" lengthAdjust="spacing" stroke="#222" stroke-width="0.1" >OS by conditioning: 2016-2020</text>
<line x1="274.2" y1="230.7" x2="512.9" y2="230.7" stroke="#555" stroke-width="1.5" />
<line x1="274.2" y1="244.8" x2="512.9" y2="244.8" stroke="#3a3a3a" stroke-width="1.8" />
<line x1="274.2" y1="269.9" x2="512.9" y2="269.9" stroke="#3a3a3a" stroke-width="1.5" />
<text x="277.67" y="240.00" font-size="7.0" font-weight="normal" font-style="normal" fill="#303030" textLength="25.24" lengthAdjust="spacingAndGlyphs" stroke="#303030" stroke-width="0.07" >Variable</text>
<text x="324.74" y="240.00" font-size="7.0" font-weight="normal" font-style="normal" fill="#303030" textLength="23.21" lengthAdjust="spacingAndGlyphs" stroke="#303030" stroke-width="0.07" >Groups</text>
<text x="361.81" y="240.00" font-size="7.0" font-weight="normal" font-style="normal" fill="#303030" textLength="6.98" lengthAdjust="spacingAndGlyphs" stroke="#303030" stroke-width="0.07" >N</text>
<text x="387.64" y="240.00" font-size="7.0" font-weight="normal" font-style="normal" fill="#303030" textLength="33.42" lengthAdjust="spacingAndGlyphs" stroke="#303030" stroke-width="0.07" >24 months</text>
<text x="440.84" y="240.00" font-size="7.0" font-weight="normal" font-style="normal" fill="#303030" textLength="33.22" lengthAdjust="spacingAndGlyphs" stroke="#303030" stroke-width="0.07" >48 months</text>
<text x="497.08" y="240.00" font-size="7.0" font-weight="normal" font-style="italic" fill="#303030" textLength="4.87" lengthAdjust="spacingAndGlyphs" stroke="#303030" stroke-width="0.07" >P</text>
<text x="277.32" y="254.50" font-size="7.0" font-weight="normal" font-style="normal" fill="#303030" textLength="41.36" lengthAdjust="spacingAndGlyphs" stroke="#303030" stroke-width="0.07" >Conditioning</text>
<text x="327.37" y="254.50" font-size="7.0" font-weight="normal" font-style="normal" fill="#303030" textLength="17.13" lengthAdjust="spacingAndGlyphs" stroke="#303030" stroke-width="0.07" >MAC</text>
<text x="330.48" y="264.80" font-size="7.0" font-weight="normal" font-style="normal" fill="#303030" textLength="10.96" lengthAdjust="spacingAndGlyphs" stroke="#303030" stroke-width="0.07" >RIC</text>
<text x="357.74" y="254.50" font-size="7.0" font-weight="normal" font-style="normal" fill="#303030" textLength="15.20" lengthAdjust="spacingAndGlyphs" stroke="#303030" stroke-width="0.07" >3357</text>
<text x="357.73" y="264.80" font-size="7.0" font-weight="normal" font-style="normal" fill="#303030" textLength="15.21" lengthAdjust="spacingAndGlyphs" stroke="#303030" stroke-width="0.07" >5261</text>
<text x="383.16" y="254.50" font-size="7.0" font-weight="normal" font-style="normal" fill="#303030" textLength="43.37" lengthAdjust="spacingAndGlyphs" stroke="#303030" stroke-width="0.07" >61% (59-63%)</text>
<text x="383.23" y="264.80" font-size="7.0" font-weight="normal" font-style="normal" fill="#303030" textLength="43.29" lengthAdjust="spacingAndGlyphs" stroke="#303030" stroke-width="0.07" >57% (56-58%)</text>
<text x="436.03" y="254.50" font-size="7.0" font-weight="normal" font-style="normal" fill="#303030" textLength="43.09" lengthAdjust="spacingAndGlyphs" stroke="#303030" stroke-width="0.07" >53% (51-55%)</text>
<text x="436.15" y="264.80" font-size="7.0" font-weight="normal" font-style="normal" fill="#303030" textLength="42.97" lengthAdjust="spacingAndGlyphs" stroke="#303030" stroke-width="0.07" >48% (47-50%)</text>
<text x="489.26" y="254.50" font-size="7.0" font-weight="normal" font-style="normal" fill="#303030" textLength="19.38" lengthAdjust="spacingAndGlyphs" stroke="#303030" stroke-width="0.07" >&lt; .001</text>
<rect x="0.6" y="0.6" width="518.8" height="276.8" fill="none" stroke="#3a3a3a" stroke-width="1.3"/>
</svg>
</body></html>
